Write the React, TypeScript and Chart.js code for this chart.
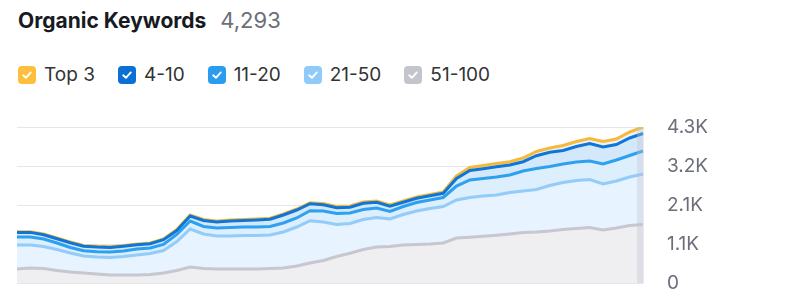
import React, { useEffect, useRef } from "react";
import { Chart, registerables } from "chart.js";

Chart.register(...registerables);

const TITLE = "Organic Keywords";
const TOTAL = "4,293";

const seriesNames = ["51-100", "21-50", "11-20", "4-10", "Top 3"];
const legendOrder = ["Top 3", "4-10", "11-20", "21-50", "51-100"];

const pos51_100 = [385,413,399,344,303,275,248,220,220,220,234,275,344,440,399,385,385,385,385,399,413,468,550,619,729,817,922,991,1004,1046,1060,1073,1101,1238,1258,1285,1313,1348,1390,1404,1431,1472,1500,1527,1459,1514,1582,1610];
const pos21_50 = [661,633,605,578,523,468,468,482,509,551,578,619,798,1046,949,908,908,922,922,922,991,1073,1164,1060,881,820,826,812,757,839,921,977,1004,1046,1095,1109,1109,1143,1142,1169,1252,1294,1321,1321,1265,1293,1335,1390];
const pos11_20 = [220,220,207,179,151,146,145,151,152,165,151,166,193,220,207,221,234,234,234,234,247,248,276,302,303,289,275,261,207,220,234,234,248,385,482,482,495,481,550,578,523,509,509,509,551,578,592,633];
const pos4_10 = [127,127,118,118,132,124,130,127,132,118,119,132,110,138,165,165,179,179,193,198,220,220,192,171,157,157,170,157,143,116,116,116,116,207,261,267,281,275,256,352,394,371,426,482,468,427,481,481];
const top3 = [19,19,19,19,19,19,19,19,19,19,19,19,27,27,28,27,28,28,27,28,28,27,28,36,35,36,36,36,36,36,36,36,35,69,83,91,91,91,102,116,115,138,138,138,151,151,166,179];

const periods = pos51_100.map((_, i) => "P" + (i + 1));
const yMax = 4293;
const yTicks = [0, 1073.25, 2146.5, 3219.75, 4293];

const lineColors: Record<string, string> = {
  "Top 3": "#f7b93b",
  "4-10": "#0e76d6",
  "11-20": "#2ea0f0",
  "21-50": "#93cbf9",
  "51-100": "#c6c7cf",
};
const boxColors: Record<string, string> = {
  "Top 3": "#ffbe3d",
  "4-10": "#0b6fd4",
  "11-20": "#2a9df0",
  "21-50": "#8ecbfb",
  "51-100": "#c4c4cc",
};
const fillColors: Record<string, string> = {
  "Top 3": "#eef1f5",
  "4-10": "#d3e8fb",
  "11-20": "#ddeefc",
  "21-50": "#e7f3fe",
  "51-100": "#efeff2",
};

const seriesData: Record<string, number[]> = {
  "51-100": pos51_100,
  "21-50": pos21_50,
  "11-20": pos11_20,
  "4-10": pos4_10,
  "Top 3": top3,
};

const fmt = (v: number) => (v === 0 ? "0" : (v / 1000).toFixed(1) + "K");

const lastBand = {
  id: "lastBand",
  afterDatasetsDraw(chart: any) {
    const { ctx, chartArea, scales } = chart;
    const x = scales.x.getPixelForValue(periods.length - 1);
    ctx.save();
    ctx.fillStyle = "rgba(190,196,208,0.35)";
    ctx.fillRect(x - 6, chartArea.top, 7, chartArea.bottom - chartArea.top);
    ctx.restore();
  },
};

function Check({ color }: { color: string }) {
  return (
    <svg width="18" height="18" viewBox="0 0 18 18" style={{ display: "block" }}>
      <rect x="0" y="0" width="18" height="18" rx="4" fill={color} />
      <polyline points="5.2,9.3 7.9,11.8 12.8,6.4" fill="none" stroke="#fff" strokeWidth="1.9" strokeLinecap="round" strokeLinejoin="round" />
    </svg>
  );
}

export default function App() {
  const ref = useRef<HTMLCanvasElement>(null);
  useEffect(() => {
    document.body.style.margin = "0";
    const datasets = seriesNames.map((name, i) => ({
      label: name,
      data: seriesData[name],
      borderColor: lineColors[name],
      backgroundColor: fillColors[name],
      borderWidth: 3,
      pointRadius: 0,
      tension: 0,
      fill: i === 0 ? "origin" : "-1",
    }));
    const chart = new Chart(ref.current as HTMLCanvasElement, {
      type: "line",
      data: { labels: periods, datasets },
      options: {
        animation: false,
        responsive: false,
        maintainAspectRatio: false,
        layout: { padding: { top: 17, bottom: 17, left: 0, right: 0 } },
        plugins: { legend: { display: false }, tooltip: { enabled: false } },
        scales: {
          x: { display: false, offset: false },
          y: {
            position: "right",
            stacked: true,
            min: 0,
            max: yMax,
            border: { display: false },
            grid: { color: "#e5e6ea", drawTicks: false, lineWidth: 1 },
            afterBuildTicks: (s: any) => {
              s.ticks = yTicks.map((v) => ({ value: v }));
            },
            afterFit: (s: any) => {
              s.width = 74;
              s.paddingTop = 0;
              s.paddingBottom = 0;
            },
            ticks: {
              padding: 24,
              color: "#6c6e79",
              font: { family: "Inter", size: 19 },
              callback: (v: any) => fmt(Number(v)),
            },
          },
        },
      },
      plugins: [lastBand],
    });
    return () => chart.destroy();
  }, []);

  return (
    <div style={{ position: "relative", width: 800, height: 300, background: "#fff", fontFamily: "Inter, sans-serif" }}>
      <div style={{ position: "absolute", left: 18, top: 7, fontSize: 21, lineHeight: "26px", whiteSpace: "nowrap" }}>
        <span style={{ fontWeight: 700, color: "#171a22" }}>{TITLE}</span>
        <span style={{ color: "#6c6e79", marginLeft: 14, fontSize: 22 }}>{TOTAL}</span>
      </div>
      <div style={{ position: "absolute", left: 18, top: 66, display: "flex", alignItems: "center", fontSize: 19, color: "#333", whiteSpace: "nowrap" }}>
        {legendOrder.map((name) => (
          <div key={name} style={{ display: "flex", alignItems: "center", marginRight: 23 }}>
            <Check color={boxColors[name]} />
            <span style={{ marginLeft: 8, lineHeight: "18px" }}>{name}</span>
          </div>
        ))}
      </div>
      <canvas ref={ref} width={700} height={190} style={{ position: "absolute", left: 17, top: 110, width: 700, height: 190 }} />
    </div>
  );
}
